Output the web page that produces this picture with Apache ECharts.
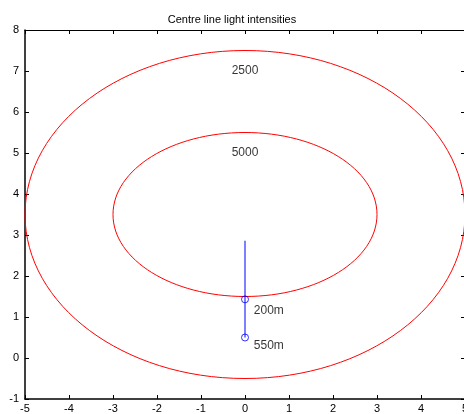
<!DOCTYPE html>
<html>
<head>
<meta charset="utf-8">
<script src="https://cdn.jsdelivr.net/npm/echarts@6/dist/echarts.min.js"></script>
<style>html,body{margin:0;padding:0;background:#fff}#c{width:464px;height:414px}</style>
</head>
<body>
<div id="c"></div>
<script>
const titleText = 'Centre line light intensities';
// ellipses: centre x, centre y, semi-axis x, semi-axis y, label
const ellipseCx = [0, 0];
const ellipseCy = [3.5, 3.5];
const ellipseRx = [5, 3];
const ellipseRy = [4, 2];
const ellipseLabels = ['2500', '5000'];
const ellipseLabelX = [0, 0];
const ellipseLabelY = [7.0, 5.0];
// centre line
const lineX = [0, 0];
const lineY = [0.5, 2.86];
// distance markers
const markerX = [0, 0];
const markerY = [1.43, 0.5];
const markerLabels = ['200m', '550m'];
const markerLabelX = [0.2, 0.2];
const markerLabelY = [1.15, 0.3];
// axes
const xMin = -5, xMax = 5, yMin = -1, yMax = 8;

const chart = echarts.init(document.getElementById('c'));
const font = 'Liberation Sans, Arial, sans-serif';
const axisCommon = {
  type: 'value', splitLine: {show: false},
  axisLine: {onZero: false, lineStyle: {color: '#000', width: 1.5}},
  axisTick: {inside: true, length: 4, lineStyle: {color: '#000'}},
};
chart.setOption({
  animation: false,
  title: {text: titleText, left: 'center', top: 9, textStyle: {fontSize: 11, fontWeight: 'normal', color: '#000', fontFamily: font}},
  grid: {left: 25, top: 30, width: 440, height: 369, containLabel: false, outerBoundsMode: 'none'},
  xAxis: [
    Object.assign({}, axisCommon, {min: xMin, max: xMax, interval: 1, position: 'bottom',
      axisLabel: {color: '#000', fontSize: 11, fontFamily: font, margin: 4}}),
    Object.assign({}, axisCommon, {min: xMin, max: xMax, interval: 1, position: 'top',
      axisLine: {onZero: false, lineStyle: {color: '#000', width: 1}}, axisLabel: {show: false}})
  ],
  yAxis: [
    Object.assign({}, axisCommon, {min: yMin, max: yMax, interval: 1, position: 'left',
      axisLabel: {color: '#000', fontSize: 11, fontFamily: font, margin: 6}}),
    Object.assign({}, axisCommon, {min: yMin, max: yMax, interval: 1, position: 'right',
      axisLine: {onZero: false, lineStyle: {color: '#000', width: 1}}, axisLabel: {show: false}})
  ],
  series: [
    {
      type: 'custom',
      clip: false,
      data: ellipseCx.map((cx, i) => [cx, ellipseCy[i], ellipseRx[i], ellipseRy[i]]),
      renderItem: function (params, api) {
        const c = api.coord([api.value(0), api.value(1)]);
        const s = api.size([api.value(2), api.value(3)]);
        return {type: 'ellipse', shape: {cx: c[0], cy: c[1], rx: s[0], ry: s[1]},
          style: {fill: 'none', stroke: '#ff0000', lineWidth: 1}};
      },
      silent: true
    },
    {
      type: 'line', data: lineX.map((x, i) => [x, lineY[i]]), symbol: 'none',
      lineStyle: {color: '#0000ff', width: 1}, silent: true
    },
    {
      type: 'scatter', data: markerX.map((x, i) => [x, markerY[i]]), symbol: 'circle', symbolSize: 7,
      itemStyle: {color: 'rgba(0,0,0,0)', borderColor: '#0000ff', borderWidth: 1}, silent: true
    },
    {
      type: 'scatter', symbolSize: 0, silent: true,
      data: ellipseLabels.map((t, i) => ({value: [ellipseLabelX[i], ellipseLabelY[i]], name: t})),
      label: {show: true, position: 'inside', formatter: '{b}', color: '#000', fontSize: 12, fontFamily: font}
    },
    {
      type: 'scatter', symbolSize: 0, silent: true,
      data: markerLabels.map((t, i) => ({value: [markerLabelX[i], markerLabelY[i]], name: t})),
      label: {show: true, position: 'right', distance: 0, formatter: '{b}', color: '#000', fontSize: 12, fontFamily: font}
    }
  ]
});
</script>
</body>
</html>
